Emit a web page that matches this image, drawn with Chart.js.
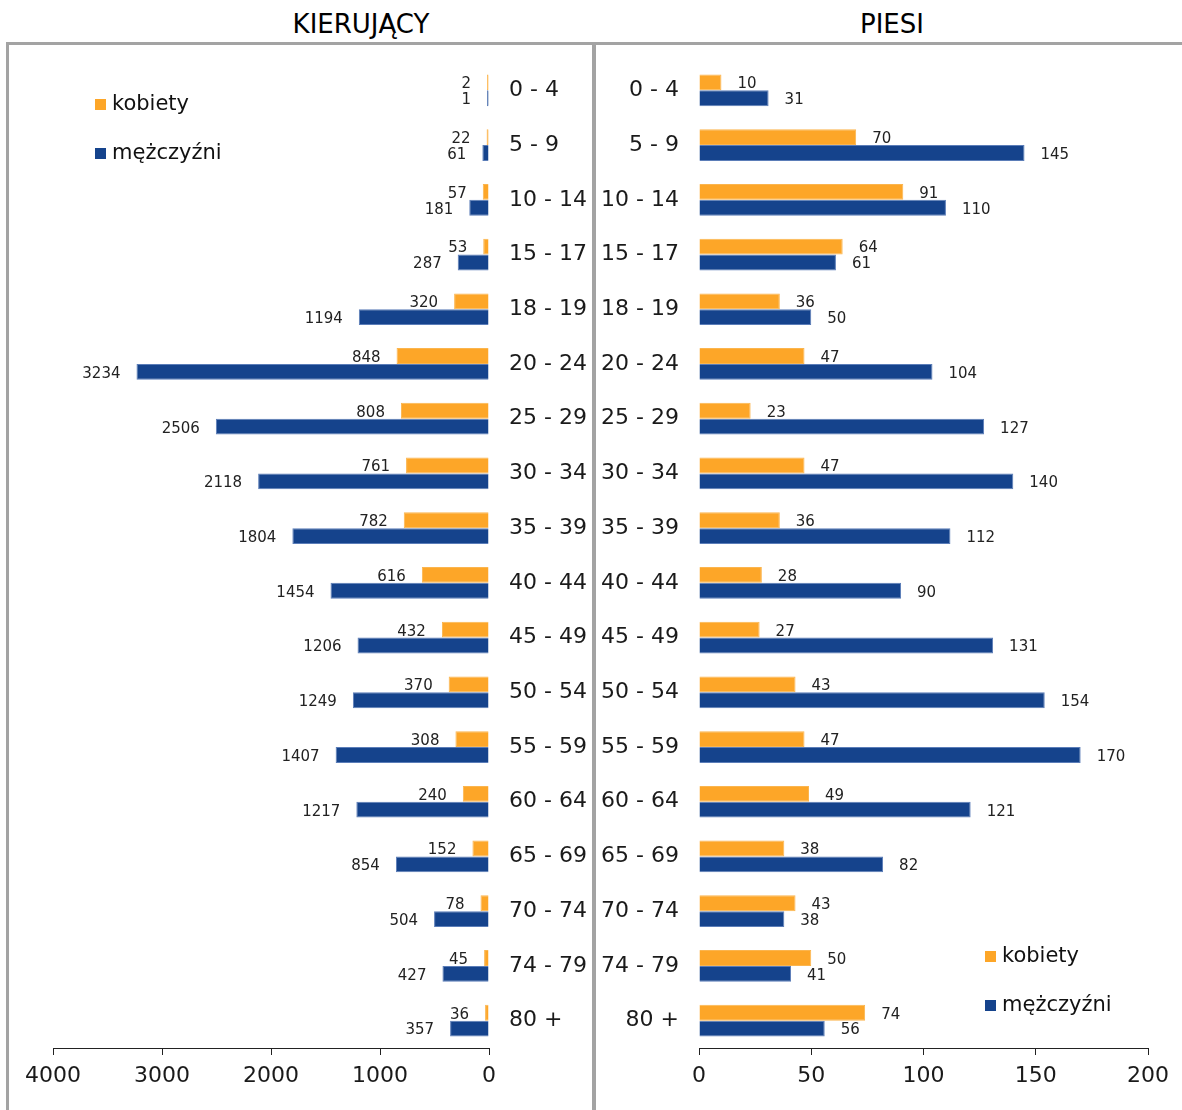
<!DOCTYPE html>
<html>
<head>
<meta charset="utf-8">
<script src="https://cdn.jsdelivr.net/npm/chart.js@4"></script>
<style>
  body { margin: 0; background: #fff; font-family: "DejaVu Sans", sans-serif; }
  #wrap { position: relative; width: 1182px; height: 1110px; overflow: hidden; }
  .title { position: absolute; top: 8px; font-size: 26px; line-height: 32px; color: #000; transform: translateX(-50%); white-space: nowrap; }
  .line { position: absolute; background: #a3a3a3; }
  canvas { position: absolute; }
</style>
</head>
<body>
<div id="wrap">
  <div class="title" style="left:361px">KIERUJĄCY</div>
  <div class="title" style="left:892px">PIESI</div>
  <div class="line" style="left:6px; top:42px; width:1176px; height:3px"></div>
  <div class="line" style="left:6px; top:42px; width:3px; height:1068px"></div>
  <div class="line" style="left:592px; top:42px; width:4px; height:1068px"></div>
  <canvas id="kierujacy" width="583" height="1065" style="left:9px; top:45px"></canvas>
  <canvas id="piesi" width="585" height="1065" style="left:597px; top:45px"></canvas>
</div>
<script>
var ageGroups = ["0 - 4", "5 - 9", "10 - 14", "15 - 17", "18 - 19", "20 - 24", "25 - 29", "30 - 34", "35 - 39",
                 "40 - 44", "45 - 49", "50 - 54", "55 - 59", "60 - 64", "65 - 69", "70 - 74", "74 - 79", "80 +"];

var driversWomen = [2, 22, 57, 53, 320, 848, 808, 761, 782, 616, 432, 370, 308, 240, 152, 78, 45, 36];
var driversMen = [1, 61, 181, 287, 1194, 3234, 2506, 2118, 1804, 1454, 1206, 1249, 1407, 1217, 854, 504, 427, 357];

var pedestriansWomen = [10, 70, 91, 64, 36, 47, 23, 47, 36, 28, 27, 43, 47, 49, 38, 43, 50, 74];
var pedestriansMen = [31, 145, 110, 61, 50, 104, 127, 140, 112, 90, 131, 154, 170, 121, 82, 38, 41, 56];

var seriesNames = ["kobiety", "mężczyźni"];
var orange = "#FDA628";
var blue = "#15438C";
var fontFamily = "'DejaVu Sans', sans-serif";

// value labels next to the end of each bar
var barLabels = {
    id: "barLabels",
    afterDatasetsDraw: function(chart, args, opts) {
        var ctx = chart.ctx;
        ctx.save();
        ctx.font = "15px " + fontFamily;
        ctx.fillStyle = "#222";
        ctx.textBaseline = "middle";
        ctx.textAlign = opts.side == "left" ? "right" : "left";
        chart.data.datasets.forEach(function(ds, i) {
            var meta = chart.getDatasetMeta(i);
            meta.data.forEach(function(bar, j) {
                var x = opts.side == "left" ? bar.x - 16 : bar.x + 16;
                ctx.fillText(String(ds.data[j]), x, bar.y + 2);
            });
        });
        ctx.restore();
    }
};

// legend drawn inside the plot area
var boxLegend = {
    id: "boxLegend",
    afterDraw: function(chart, args, opts) {
        var ctx = chart.ctx;
        ctx.save();
        ctx.font = "21px " + fontFamily;
        ctx.textBaseline = "middle";
        ctx.textAlign = "left";
        chart.data.datasets.forEach(function(ds, i) {
            var y = opts.y + i * opts.gap;
            ctx.fillStyle = ds.backgroundColor;
            ctx.fillRect(opts.x, y - 6, 11, 11);
            ctx.fillStyle = "#111";
            ctx.fillText(ds.label, opts.x + 17, y);
        });
        ctx.restore();
    }
};

function makeChart(id, women, men, cfg) {
    var ctx = document.getElementById(id);
    return new Chart(ctx, {
        type: "bar",
        data: {
            labels: ageGroups,
            datasets: [
                { label: seriesNames[0], data: women, backgroundColor: orange, borderColor: "#FBB54E", borderWidth: 1, minBarLength: cfg.minBar },
                { label: seriesNames[1], data: men, backgroundColor: blue, borderColor: "#5B7DB8", borderWidth: 1, minBarLength: cfg.minBar }
            ]
        },
        options: {
            indexAxis: "y",
            responsive: false,
            animation: false,
            devicePixelRatio: 1,
            categoryPercentage: 0.58,
            barPercentage: 1.0,
            layout: { padding: cfg.padding },
            plugins: {
                legend: { display: false },
                tooltip: { enabled: false },
                barLabels: { side: cfg.side },
                boxLegend: cfg.legend
            },
            scales: {
                x: {
                    min: 0,
                    max: cfg.max,
                    reverse: cfg.side == "left",
                    ticks: {
                        stepSize: cfg.step, padding: 8, color: "#1a1a1a",
                        font: { family: fontFamily, size: 22 },
                        callback: function(v) { return String(v); }
                    },
                    grid: { display: true, drawOnChartArea: false, drawTicks: true, tickLength: 7, color: "#222" },
                    border: { display: true, color: "#222", width: 1 },
                    afterFit: function(scale) { scale.height = 62; }
                },
                y: {
                    position: cfg.side == "left" ? "right" : "left",
                    ticks: { padding: 20, color: "#1a1a1a", font: { family: fontFamily, size: 22 } },
                    grid: { display: false, drawTicks: false },
                    border: { display: false },
                    afterFit: function(scale) {
                        scale.width = cfg.yWidth;
                        scale.paddingTop = 0;
                        scale.paddingBottom = 0;
                    }
                }
            }
        },
        plugins: [barLabels, boxLegend]
    });
}

makeChart("kierujacy", driversWomen, driversMen, {
    side: "left", max: 4000, step: 1000, yWidth: 103, minBar: 2,
    padding: { left: 44, right: 0, top: 18, bottom: 0 },
    legend: { x: 86, y: 60, gap: 49 }
});

makeChart("piesi", pedestriansWomen, pedestriansMen, {
    side: "right", max: 200, step: 50, yWidth: 102, minBar: 0,
    padding: { left: 0, right: 34, top: 18, bottom: 0 },
    legend: { x: 388, y: 912, gap: 49 }
});
</script>
</body>
</html>
